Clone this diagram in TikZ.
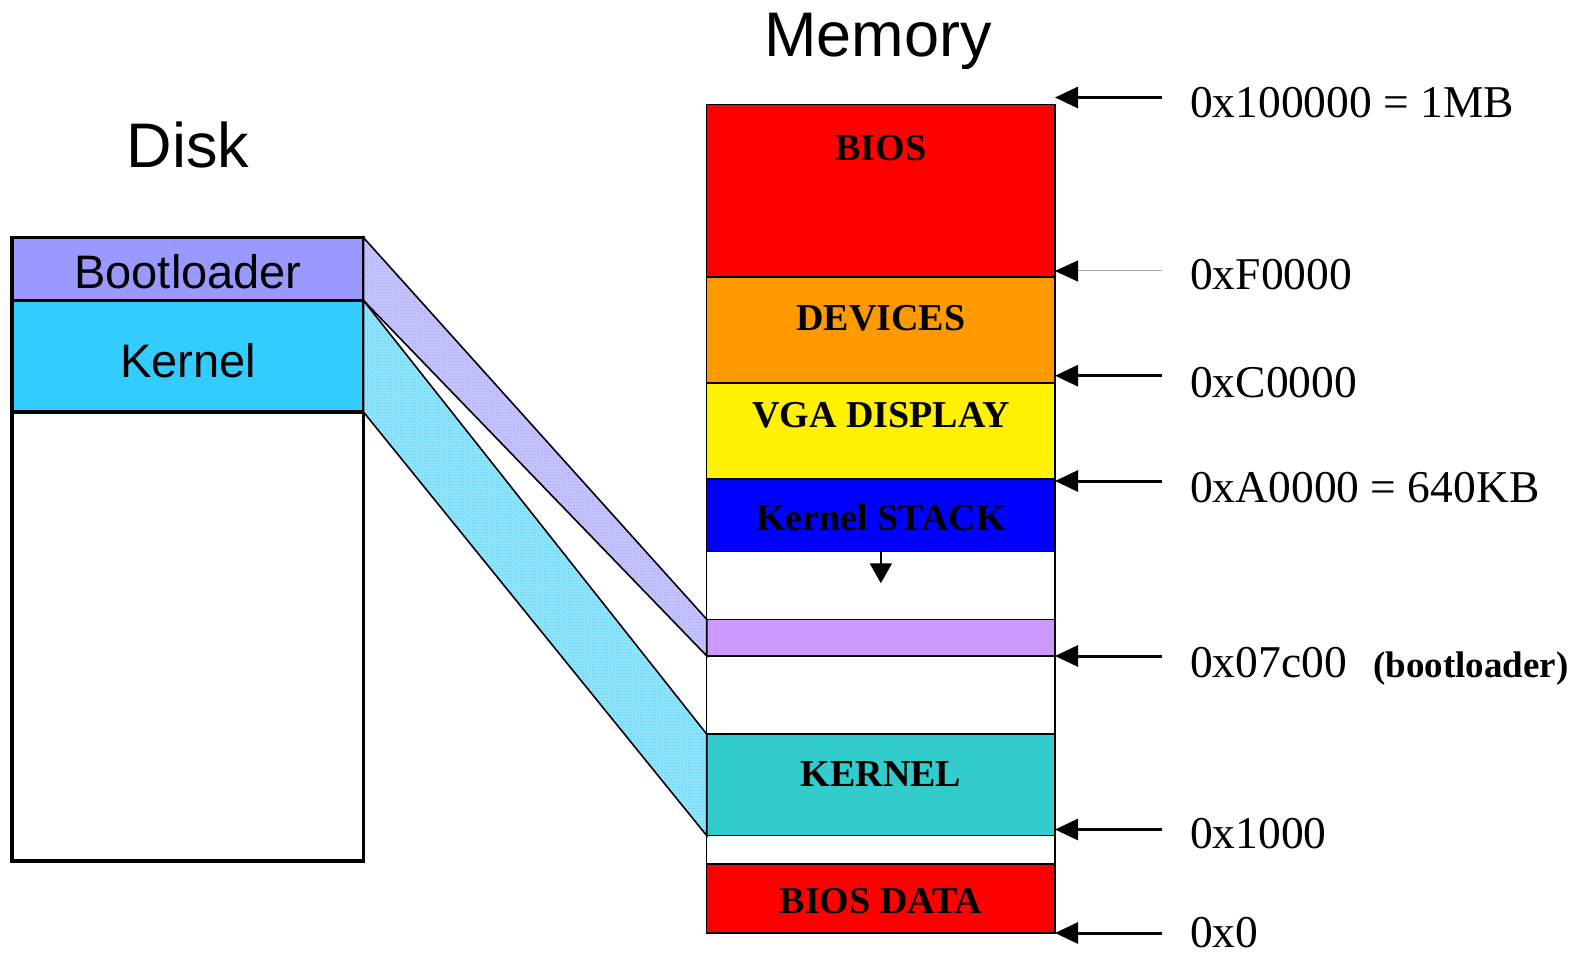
\documentclass[tikz,border=0pt]{standalone}
\usepackage{fontspec}
\setmainfont{Liberation Serif}
\newfontfamily\sansf{Liberation Sans}
\usetikzlibrary{arrows.meta,patterns}
\definecolor{lav}{HTML}{9999FF}
\definecolor{dcyan}{HTML}{33CCFF}
\definecolor{morange}{HTML}{FF9900}
\definecolor{mpurple}{HTML}{CC99FF}
\definecolor{mteal}{HTML}{33CCCC}
\begin{document}
\begin{tikzpicture}[x=1pt,y=-1pt,
  memblk/.style={draw=black, line width=1.5pt, minimum width=348.3pt, anchor=north west, inner sep=0pt, outer sep=0pt},
  diskblk/.style={draw=black, line width=3.5pt, minimum width=351.3pt, anchor=north west, inner sep=0pt, outer sep=0pt},
  memtxt/.style={anchor=base, font=\fontsize{38}{40}\selectfont\bfseries, inner sep=0pt},
  addr/.style={anchor=base west, font=\fontsize{45.5}{48}\selectfont, inner sep=0pt},
  title/.style={anchor=base, font=\sansf\fontsize{63}{70}\selectfont, inner sep=0pt},
  disktxt/.style={anchor=base, font=\sansf\fontsize{47}{52}\selectfont, inner sep=0pt},
  ptr/.style={line width=3pt, -{Triangle[length=23pt,width=21pt]}},
  thinptr/.style={line width=1pt, draw=black!35, -{Triangle[length=23pt,width=21pt,color=black]}},
  band/.style={draw=black, line width=1.6pt, line join=miter}
]
\useasboundingbox (0,0) rectangle (1592,957);

% titles
\node[title] (tdisk) at (188,167.5) {Disk};
\node[title] (tmem) at (878,57) {Memory};

% disk
\node[diskblk, fill=lav, minimum height=62.9pt] (dboot) at (12.2,237.6) {};
\node[diskblk, fill=dcyan, minimum height=111.5pt] (dkern) at (12.2,300.5) {};
\node[diskblk, fill=white, minimum height=449pt] (drest) at (12.2,412) {};
\node[disktxt] (tboot) at (188,289) {Bootloader};
\node[disktxt] (tkern) at (188,377) {Kernel};

% memory blocks
\node[memblk, fill=red, minimum height=172.6pt] (bios) at (706.7,104.6) {};
\node[memblk, fill=morange, minimum height=105.6pt] (dev) at (706.7,277.2) {};
\node[memblk, fill=yellow, minimum height=96.4pt] (vga) at (706.7,382.8) {};
\node[memblk, fill=blue, minimum height=72.1pt] (stack) at (706.7,479.2) {};
\node[memblk, fill=white, minimum height=68pt] (gapa) at (706.7,551.3) {};
\node[memblk, fill=mpurple, minimum height=36.6pt] (mboot) at (706.7,619.3) {};
\node[memblk, fill=white, minimum height=78.2pt] (gapb) at (706.7,655.9) {};
\node[memblk, fill=mteal, minimum height=101.5pt] (mkern) at (706.7,734.1) {};
\node[memblk, fill=white, minimum height=28.4pt] (gapc) at (706.7,835.6) {};
\node[memblk, fill=red, minimum height=69pt] (bdata) at (706.7,864) {};

% bands
\path[band, preaction={fill=lav!55}, pattern=crosshatch dots, pattern color=lav]
  (dboot.north east) -- (mboot.north west) -- (mboot.south west) -- (dboot.south east) -- cycle;
\path[band, preaction={fill=dcyan!50}, pattern=crosshatch dots, pattern color=dcyan]
  (dkern.north east) -- (mkern.north west) -- (mkern.south west) -- (dkern.south east) -- cycle;

% memory texts
\node[memtxt] (tbios) at (881,160.5) {BIOS};
\node[memtxt] (tdev) at (881,330.5) {DEVICES};
\node[memtxt] (tvga) at (881,427.5) {VGA DISPLAY};
\node[memtxt] (tstack) at (881,530.5) {Kernel STACK};
\node[memtxt] (tmk) at (881,786.5) {KERNEL};
\node[memtxt] (tbd) at (881,913) {BIOS DATA};

% stack growth arrow
\draw[line width=2pt, -{Triangle[length=20pt,width=22pt]}] (stack.south) -- ++(0,32);

% address pointers
\coordinate (p1) at (1162,97.5);
\coordinate (p2) at (1162,271);
\coordinate (p3) at (1162,375.7);
\coordinate (p4) at (1162,481);
\coordinate (p5) at (1162,656);
\coordinate (p6) at (1162,829.5);
\coordinate (p7) at (1162,933);
\draw[ptr] (p1) -- (p1 -| bios.east);
\draw[thinptr] (p2) -- (p2 -| bios.east);
\draw[ptr] (p3) -- (p3 -| bios.east);
\draw[ptr] (p4) -- (p4 -| bios.east);
\draw[ptr] (p5) -- (p5 -| bios.east);
\draw[ptr] (p6) -- (p6 -| bios.east);
\draw[ptr] (p7) -- (p7 -| bios.east);

% address labels
\node[addr] (l1) at (1190,117.7) {0x100000 = 1MB};
\node[addr] (l2) at (1190,290) {0xF0000};
\node[addr] (l3) at (1190,397) {0xC0000};
\node[addr] (l4) at (1190,502) {0xA0000 = 640KB};
\node[addr] (l5) at (1190,677) {0x07c00};
\node[anchor=base west, font=\fontsize{37}{40}\selectfont\bfseries, inner sep=0pt] (l5b) at (1373,677) {(bootloader)};
\node[addr] (l6) at (1190,848.5) {0x1000};
\node[addr] (l7) at (1190,947) {0x0};
\end{tikzpicture}
\end{document}
